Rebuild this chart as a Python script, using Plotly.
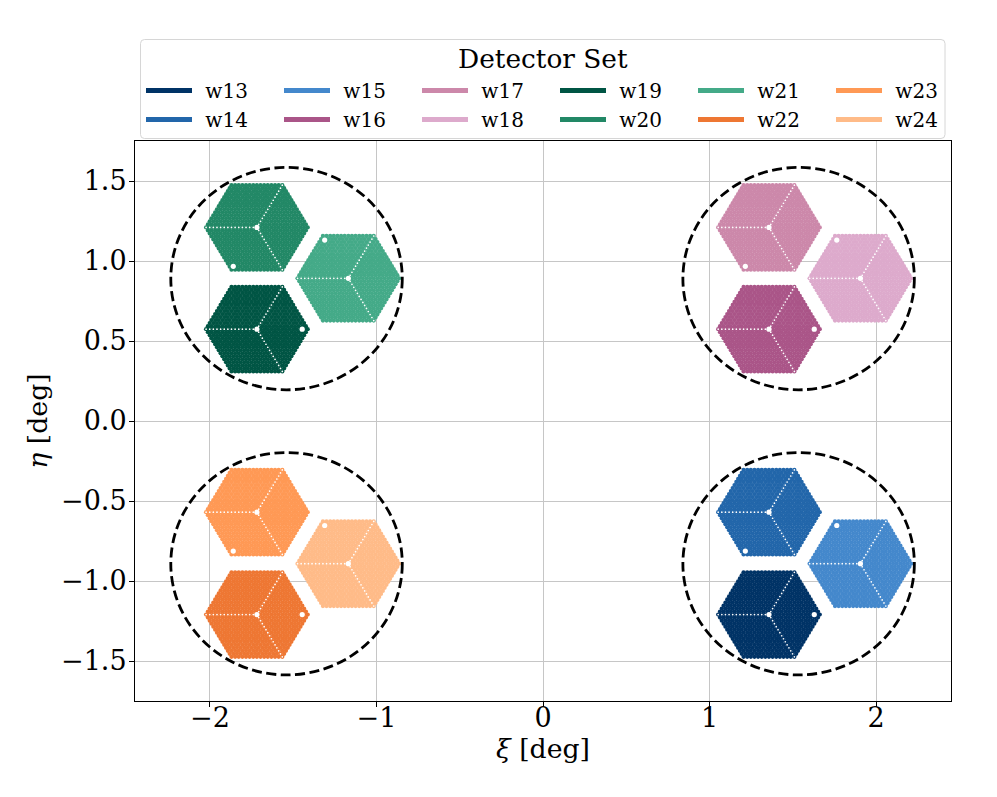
import plotly.graph_objects as go

wafer_names = ["w13", "w14", "w15", "w16", "w17", "w18", "w19", "w20", "w21", "w22", "w23", "w24"]
wafer_xi = [1.357, 1.357, 1.906, 1.357, 1.357, 1.906, -1.718, -1.718, -1.169, -1.718, -1.718, -1.169]
wafer_eta = [-1.210, -0.570, -0.892, 0.574, 1.210, 0.892, 0.574, 1.210, 0.892, -1.210, -0.570, -0.892]
wafer_colors = ["#003366", "#2266aa", "#4488cc", "#aa5588", "#cc88aa", "#ddaacc",
                "#005544", "#228866", "#44aa88", "#ee7733", "#ff9955", "#ffbb88"]
# alignment-hole offset from each wafer centre
hole_dxi = [0.272, -0.142, -0.142] * 4
hole_deta = [0.0, -0.243, 0.239] * 4
tube_xi = [-1.54, 1.535, -1.54, 1.535]
tube_eta = [0.89, 0.89, -0.892, -0.892]
tube_radius = 0.695
wafer_radius = 0.305
lattice_rows = 14
xi_ticks = [-2, -1, 0, 1, 2]
eta_ticks = [-1.5, -1.0, -0.5, 0.0, 0.5, 1.0, 1.5]
eta_labels = ["\u22121.5", "\u22121.0", "\u22120.5", "0.0", "0.5", "1.0", "1.5"]
xi_range = [-2.45, 2.45]
eta_range = [-1.75, 1.75]
legend_title = "Detector Set"

W, H = 997, 797
L, RIGHT, TOP, BOTTOM = 135, 951, 141, 701
FONT = "DejaVu Serif"
SIN60 = 3 ** 0.5 / 2
pitch = wafer_radius / lattice_rows


def lattice(cx, cy):
    xs, ys = [], []
    n = lattice_rows
    for j in range(-n, n + 1):
        count = 2 * n + 1 - abs(j)
        x0 = -(count - 1) / 2 * pitch
        for i in range(count):
            xs.append(cx + x0 + i * pitch)
            ys.append(cy + j * pitch * SIN60)
    return xs, ys


def spokes(cx, cy):
    xs, ys = [], []
    for k in range(1, lattice_rows + 1):
        d = k * pitch
        xs += [cx - d, cx + d / 2, cx + d / 2]
        ys += [cy, cy + d * SIN60, cy - d * SIN60]
    return xs, ys


fig = go.Figure()
for k, name in enumerate(wafer_names):
    cx, cy = wafer_xi[k], wafer_eta[k]
    xs, ys = lattice(cx, cy)
    fig.add_trace(go.Scatter(x=xs, y=ys, mode="markers", showlegend=False, hoverinfo="skip",
                             marker=dict(size=4.3, color=wafer_colors[k], line=dict(width=0))))
    sx, sy = spokes(cx, cy)
    fig.add_trace(go.Scatter(x=sx, y=sy, mode="markers", showlegend=False, hoverinfo="skip",
                             marker=dict(size=1.7, color="white", line=dict(width=0))))
    fig.add_trace(go.Scatter(x=[cx, cx + hole_dxi[k]], y=[cy, cy + hole_deta[k]], mode="markers",
                             showlegend=False, hoverinfo="skip",
                             marker=dict(size=5.2, color="white", line=dict(width=0))))

# one two-row legend per column, filled top to bottom
legends = {}
for k, name in enumerate(wafer_names):
    col = k // 2
    lid = "legend" if col == 0 else f"legend{col + 1}"
    fig.add_trace(go.Scatter(x=[None], y=[None], mode="lines", name="\u00a0\u200a" + name, legend=lid,
                             line=dict(color=wafer_colors[k], width=4.8)))
    legends[lid] = dict(orientation="v", x=(141 + col * 138) / W, xanchor="left", y=1 - 71 / H, yanchor="top",
                        itemwidth=46, font=dict(family=FONT, size=20, color="black"),
                        bgcolor="rgba(0,0,0,0)", borderwidth=0, itemclick=False, itemdoubleclick=False)

shapes = []
for cx, cy in zip(tube_xi, tube_eta):
    shapes.append(dict(type="circle", xref="x", yref="y",
                       x0=cx - tube_radius, x1=cx + tube_radius,
                       y0=cy - tube_radius, y1=cy + tube_radius,
                       line=dict(color="black", width=2.8, dash="10px,4.5px")))

# rounded legend frame, in paper fractions (the margins are zero, so paper = page)
fx = lambda p: p / W
fy = lambda p: 1 - p / H
x0, x1, y0, y1, r = 140.5, 945, 39.5, 138.5, 4
shapes.append(dict(type="path", xref="paper", yref="paper", layer="below",
                   path=(f"M{fx(x0 + r)},{fy(y0)} L{fx(x1 - r)},{fy(y0)} Q{fx(x1)},{fy(y0)} {fx(x1)},{fy(y0 + r)} "
                         f"L{fx(x1)},{fy(y1 - r)} Q{fx(x1)},{fy(y1)} {fx(x1 - r)},{fy(y1)} "
                         f"L{fx(x0 + r)},{fy(y1)} Q{fx(x0)},{fy(y1)} {fx(x0)},{fy(y1 - r)} "
                         f"L{fx(x0)},{fy(y0 + r)} Q{fx(x0)},{fy(y0)} {fx(x0 + r)},{fy(y0)} Z"),
                   line=dict(color="#d6d6d6", width=1), fillcolor="rgba(0,0,0,0)"))

axis = dict(showgrid=True, gridcolor="#c6c6c6", gridwidth=1, zeroline=False, showline=True,
            linecolor="black", linewidth=1, mirror=True, ticks="outside", ticklen=5, tickwidth=1,
            tickcolor="black", tickfont=dict(family=FONT, size=27, color="black"), automargin=False)

fig.update_layout(
    width=W, height=H, autosize=False,
    margin=dict(l=0, r=0, t=0, b=0, pad=0),
    paper_bgcolor="white", plot_bgcolor="white",
    font=dict(family=FONT, color="black"),
    shapes=shapes,
    showlegend=True,
    annotations=[dict(text=legend_title, xref="paper", yref="paper", x=543 / W, y=fy(58),
                      xanchor="center", yanchor="middle", showarrow=False,
                      font=dict(family=FONT, size=26.4, color="black"))],
    xaxis=dict(axis, domain=[L / W, RIGHT / W], range=xi_range, tickvals=xi_ticks,
               ticktext=["\u22122", "\u22121", "0", "1", "2"], ticklabelstandoff=-12,
               title=dict(text="<i>\u03be</i> [deg]", font=dict(family=FONT, size=26.7, color="black"), standoff=3)),
    yaxis=dict(axis, domain=[1 - BOTTOM / H, 1 - TOP / H], range=eta_range, tickvals=eta_ticks, ticktext=eta_labels,
               ticklabelstandoff=-3,
               title=dict(text="<i>\u03b7</i> [deg]", font=dict(family=FONT, size=26.7, color="black"), standoff=5)),
    **legends,
)
fig.write_html("out.html", config={"displayModeBar": False}, post_script="document.body.style.margin='0';")
